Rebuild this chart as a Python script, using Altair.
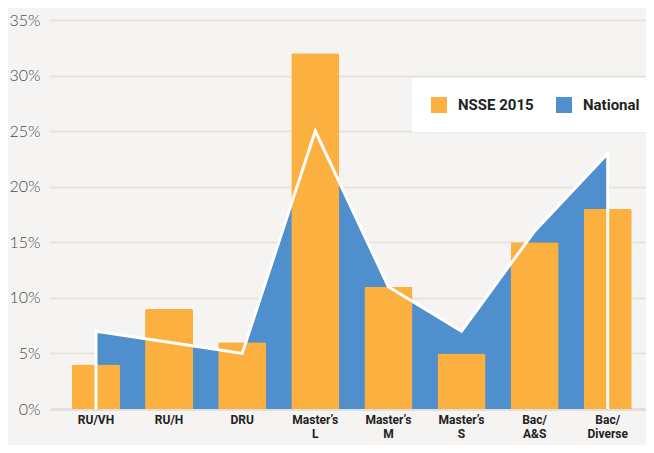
import altair as alt
import pandas as pd

categories = ["RU/VH", "RU/H", "DRU", "Master’s\nL", "Master’s\nM", "Master’s\nS", "Bac/\nA&S", "Bac/\nDiverse"]
nsse_2015 = [4, 9, 6, 32, 11, 5, 15, 18]
national = [7, 6, 5, 25, 11, 7, 16, 23]
series_names = ["NSSE 2015", "National"]
colors = ["#fbb040", "#4f8fcd"]
y_ticks = [0, 5, 10, 15, 20, 25, 30, 35]

bars_df = pd.DataFrame({"cat": categories, "value": nsse_2015, "series": series_names[0]})
area_df = pd.DataFrame({"cat": categories, "value": national, "series": series_names[1]})

# outline: down-edge at both ends plus the national values
line_cats = [categories[0]] + categories + [categories[-1]]
line_vals = [0] + national + [0]
line_df = pd.DataFrame({"cat": line_cats, "value": line_vals, "ord": list(range(len(line_cats)))})

label_font = "Roboto"

x_enc = alt.X(
    "cat:N",
    sort=categories,
    scale=alt.Scale(paddingInner=0.343, paddingOuter=0.248, align=0.606),
    axis=alt.Axis(
        title=None,
        labelAngle=0,
        labelExpr="split(datum.label, '\\n')",
        labelFont=label_font,
        labelFontWeight="bold",
        labelFontSize=12,
        labelColor="#222222",
        labelPadding=5,
        labelLineHeight=14.5,
        ticks=False,
        domainColor="#e2dfda",
        domainWidth=3,
        grid=False,
    ),
)
y_enc = alt.Y(
    "value:Q",
    scale=alt.Scale(domain=[0, 35], nice=False),
    axis=alt.Axis(
        title=None,
        values=y_ticks,
        labelExpr="datum.value + '%'",
        labelFont="Lato",
        labelFontWeight=300,
        labelFontSize=16,
        labelColor="#4a4a4a",
        labelPadding=10,
        ticks=False,
        domain=False,
        grid=True,
        gridColor="#e6e3de",
        gridWidth=2,
    ),
)
color_enc = alt.Color(
    "series:N",
    scale=alt.Scale(domain=series_names, range=colors),
    legend=alt.Legend(
        title=None,
        orient="none",
        legendX=362,
        legendY=58,
        direction="horizontal",
        columns=2,
        fillColor="white",
        padding=19,
        symbolType="square",
        symbolSize=256,
        symbolStrokeWidth=0,
        symbolOpacity=1,
        labelFont=label_font,
        labelFontWeight="bold",
        labelFontSize=15,
        labelColor="#222222",
        labelOffset=11,
        columnPadding=22,
    ),
)

area = alt.Chart(area_df).mark_area(opacity=1).encode(x=x_enc, y=y_enc, color=color_enc)
bars = alt.Chart(bars_df).mark_bar(cornerRadiusTopLeft=2, cornerRadiusTopRight=2).encode(
    x=x_enc, y=y_enc, color=color_enc
)
outline = alt.Chart(line_df).mark_line(color="white", strokeWidth=3, strokeJoin="miter").encode(
    x=x_enc, y=y_enc, order="ord:Q"
)

chart = (
    alt.layer(area, bars, outline)
    .properties(
        width=596,
        height=389,
        background="#f5f4f2",
        padding={"left": 42, "top": 12, "right": 0, "bottom": 36},
        autosize=alt.AutoSizeParams(type="none"),
    )
    .configure_view(stroke=None)
)

chart.save("out.html", embed_options={"renderer": "svg", "actions": False})
